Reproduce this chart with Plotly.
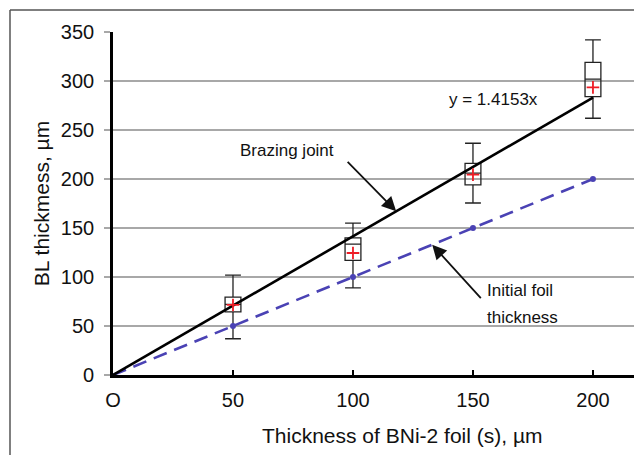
import plotly.graph_objects as go

# Foil thickness (µm) and measured brazed-layer statistics
foil = [50, 100, 150, 200]
whisker_low = [37, 89, 175.5, 262]
q1 = [64.5, 117, 194, 284]
median = [72, 133.5, 206, 302]
q3 = [79.5, 140, 216, 319]
whisker_high = [102, 155, 236.5, 342]
mean = [71.5, 124.5, 204.5, 293.5]

slope = 1.4153
fit_x = [0, 200]
init_x = [0, 50, 100, 150, 200]

x_ticks = [0, 50, 100, 150, 200]
x_tick_text = ["O", "50", "100", "150", "200"]
y_ticks = [0, 50, 100, 150, 200, 250, 300, 350]

FONT = "Liberation Sans, Arial, sans-serif"
PURPLE = "#4a42b4"

fig = go.Figure()

# Initial foil thickness (y = x)
fig.add_trace(go.Scatter(
    x=init_x, y=init_x, mode="lines",
    line=dict(color=PURPLE, width=2.6, dash="14px,8px"),
    showlegend=False, hoverinfo="skip"))
fig.add_trace(go.Scatter(
    x=foil, y=foil, mode="markers",
    marker=dict(color=PURPLE, size=6),
    showlegend=False, hoverinfo="skip"))

# Linear fit through origin
fig.add_trace(go.Scatter(
    x=fit_x, y=[slope * v for v in fit_x], mode="lines",
    line=dict(color="black", width=2.6),
    showlegend=False, hoverinfo="skip"))

# Box plots of brazed layer thickness
fig.add_trace(go.Box(
    x=foil, q1=q1, median=median, q3=q3,
    lowerfence=whisker_low, upperfence=whisker_high,
    width=6.6, whiskerwidth=1,
    fillcolor="rgba(255,255,255,0)",
    line=dict(color="#222222", width=1.3),
    boxpoints=False, showlegend=False, hoverinfo="skip"))

# Means
fig.add_trace(go.Scatter(
    x=foil, y=mean, mode="markers",
    marker=dict(symbol="cross-thin", size=9, line=dict(color="#ee1c25", width=1.8)),
    showlegend=False, hoverinfo="skip"))

ann_font = dict(family=FONT, size=17, color="#111111")

fig.add_annotation(x=118, y=slope * 118, ax=-50, ay=-51, xref="x", yref="y",
                   showarrow=True, arrowhead=2, arrowsize=1.6, arrowwidth=1.8,
                   arrowcolor="#111111", text="")
fig.add_annotation(x=72.5, y=229, xref="x", yref="y", text="Brazing joint",
                   showarrow=False, font=ann_font)
fig.add_annotation(x=158.5, y=281, xref="x", yref="y", text="y = 1.4153x",
                   showarrow=False, font=ann_font)
fig.add_annotation(x=133, y=133, ax=50, ay=55, xref="x", yref="y",
                   showarrow=True, arrowhead=2, arrowsize=1.6, arrowwidth=1.8,
                   arrowcolor="#111111", text="")
fig.add_annotation(x=155, y=86.5, xref="x", yref="y", text="Initial foil",
                   xanchor="left", yanchor="middle", showarrow=False, font=ann_font)
fig.add_annotation(x=155, y=59, xref="x", yref="y", text="thickness",
                   xanchor="left", yanchor="middle", showarrow=False, font=ann_font)

# X axis title
fig.add_annotation(x=0.555, y=-0.175, xref="paper", yref="paper",
                   text="Thickness of BNi-2 foil (s), µm", showarrow=False,
                   xanchor="center", yanchor="middle",
                   font=dict(family=FONT, size=21, color="#111111"))

# Outer frame lines
fig.add_shape(type="line", xref="paper", yref="paper",
              x0=-0.1977, x1=1.05, y0=1.0641, y1=1.0641,
              line=dict(color="#555555", width=1.5))
fig.add_shape(type="line", xref="paper", yref="paper",
              x0=-0.1977, x1=-0.1977, y0=1.0641, y1=-0.3,
              line=dict(color="#555555", width=1.5))

fig.update_layout(
    width=634, height=455,
    margin=dict(l=113, r=0, t=32, b=80),
    paper_bgcolor="white", plot_bgcolor="white",
    font=dict(family=FONT, size=20, color="#111111"),
    showlegend=False,
)
fig.update_xaxes(
    range=[0, 217.1], tickvals=x_ticks, ticktext=x_tick_text,
    showgrid=False, zeroline=False,
    showline=True, linecolor="black", linewidth=2.6,
    ticks="inside", ticklen=5, tickwidth=2, tickcolor="black",
    tickfont=dict(size=20), ticklabelstandoff=5,
)
fig.update_yaxes(
    range=[0, 350], tickvals=y_ticks,
    showgrid=True, gridcolor="#a8a8a8", gridwidth=1.5,
    zeroline=False,
    showline=True, linecolor="black", linewidth=2.6,
    ticks="outside", ticklen=6, tickwidth=1.5, tickcolor="#a8a8a8",
    tickfont=dict(size=20), ticklabelstandoff=6,
    title=dict(text="BL thickmess, µm", font=dict(size=21), standoff=6),
)

fig.write_html("out.html")
